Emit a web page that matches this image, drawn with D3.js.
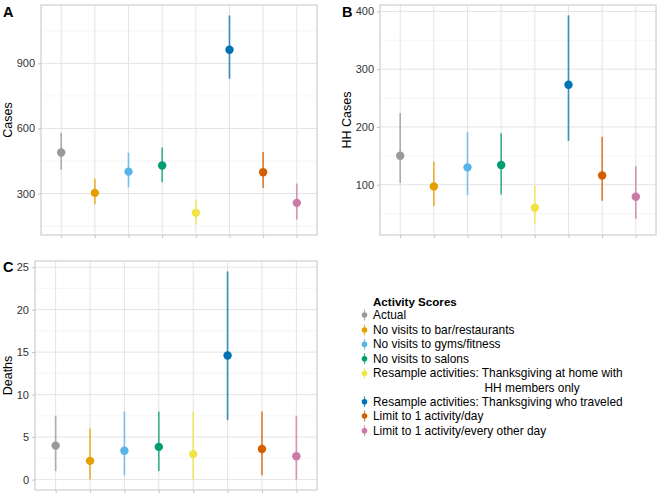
<!DOCTYPE html>
<html>
<head>
<meta charset="utf-8">
<script src="https://cdn.jsdelivr.net/npm/d3@7"></script>
<style>
  html, body { margin: 0; padding: 0; background: #fff; }
  svg { display: block; font-family: "Liberation Sans", Arial, Helvetica, sans-serif; }
</style>
</head>
<body>
<svg id="chart" width="660" height="497"></svg>
<script>
const categories = [
  "Actual",
  "No visits to bar/restaurants",
  "No visits to gyms/fitness",
  "No visits to salons",
  "Resample activities: Thanksgiving at home with HH members only",
  "Resample activities: Thanksgiving who traveled",
  "Limit to 1 activity/day",
  "Limit to 1 activity/every other day"
];
const legendLabels = [
  ["Actual"],
  ["No visits to bar/restaurants"],
  ["No visits to gyms/fitness"],
  ["No visits to salons"],
  ["Resample activities: Thanksgiving at home with", "HH members only"],
  ["Resample activities: Thanksgiving who traveled"],
  ["Limit to 1 activity/day"],
  ["Limit to 1 activity/every other day"]
];
const colors = ["#999999", "#E69F00", "#56B4E9", "#009E73", "#F0E442", "#0072B2", "#D55E00", "#CC79A7"];

const casesMean = [489, 303, 401, 429, 211, 963, 398, 257];
const casesLow  = [409, 250, 329, 352, 157, 829, 325, 180];
const casesHigh = [580, 369, 488, 512, 272, 1121, 492, 346];

const hhMean = [150, 97, 130, 134, 60, 273, 116, 79];
const hhLow  = [103, 63, 82, 83, 31, 176, 72, 41];
const hhHigh = [224, 140, 191, 189, 98, 393, 183, 132];

const deathsMean = [4.0, 2.2, 3.4, 3.85, 3.0, 14.6, 3.6, 2.75];
const deathsLow  = [1, 0, 0.5, 1, 0, 7, 0.5, 0];
const deathsHigh = [7.5, 6, 8, 8, 8, 24.5, 8, 7.5];

const casesTicks = [300, 600, 900];
const casesMinor = [150, 450, 750, 1050];
const hhTicks = [100, 200, 300, 400];
const hhMinor = [50, 150, 250, 350];
const deathsTicks = [0, 5, 10, 15, 20, 25];
const deathsMinor = [2.5, 7.5, 12.5, 17.5, 22.5];

const svg = d3.select("#chart");

function panel(opts) {
  const {x0, x1, y0, y1, mean, low, high, ticks, minor, title, tag, tagX, tagY, titleX} = opts;
  const g = svg.append("g");
  const lo = d3.min(low), hi = d3.max(high);
  const pad = (hi - lo) * 0.05;
  const y = d3.scaleLinear().domain([lo - pad, hi + pad]).range([y1, y0]);
  const x = d3.scaleLinear().domain([0.4, categories.length + 0.6]).range([x0, x1]);

  g.selectAll(".minor").data(minor).join("line")
    .attr("x1", x0).attr("x2", x1)
    .attr("y1", d => y(d)).attr("y2", d => y(d))
    .attr("stroke", "#f0f0f0").attr("stroke-width", 0.6);
  g.selectAll(".major").data(ticks).join("line")
    .attr("x1", x0).attr("x2", x1)
    .attr("y1", d => y(d)).attr("y2", d => y(d))
    .attr("stroke", "#e4e4e4").attr("stroke-width", 1);
  g.selectAll(".vgrid").data(categories).join("line")
    .attr("x1", (d, i) => x(i + 1)).attr("x2", (d, i) => x(i + 1))
    .attr("y1", y0).attr("y2", y1)
    .attr("stroke", "#e4e4e4").attr("stroke-width", 1);

  g.append("rect").attr("x", x0).attr("y", y0)
    .attr("width", x1 - x0).attr("height", y1 - y0)
    .attr("fill", "none").attr("stroke", "#c4c4c4").attr("stroke-width", 1);

  const yAxis = d3.axisLeft(y).tickValues(ticks).tickSize(3).tickPadding(3);
  const ya = g.append("g").attr("transform", `translate(${x0},0)`).call(yAxis);
  ya.select(".domain").remove();
  ya.selectAll(".tick line").attr("stroke", "#c4c4c4");
  ya.selectAll(".tick text").attr("fill", "#333").attr("font-size", 11);

  const xAxis = d3.axisBottom(x).tickValues(d3.range(1, categories.length + 1)).tickSize(3).tickFormat("");
  const xa = g.append("g").attr("transform", `translate(0,${y1})`).call(xAxis);
  xa.select(".domain").remove();
  xa.selectAll(".tick line").attr("stroke", "#c4c4c4");

  g.selectAll(".err").data(categories).join("line")
    .attr("x1", (d, i) => x(i + 1)).attr("x2", (d, i) => x(i + 1))
    .attr("y1", (d, i) => y(low[i])).attr("y2", (d, i) => y(high[i]))
    .attr("stroke", (d, i) => colors[i]).attr("stroke-width", 1.7)
    .attr("stroke-opacity", 0.75);
  g.selectAll(".pt").data(categories).join("circle")
    .attr("cx", (d, i) => x(i + 1)).attr("cy", (d, i) => y(mean[i]))
    .attr("r", 4.2).attr("fill", (d, i) => colors[i]);

  g.append("text")
    .attr("transform", `translate(${titleX},${(y0 + y1) / 2}) rotate(-90)`)
    .attr("text-anchor", "middle").attr("dominant-baseline", "central")
    .attr("font-size", 12.5).attr("fill", "#000").text(title);

  g.append("text").attr("x", tagX).attr("y", tagY)
    .attr("font-size", 14.5).attr("font-weight", "bold").attr("fill", "#000").text(tag);
}

panel({x0: 41, x1: 317, y0: 5, y1: 235, mean: casesMean, low: casesLow, high: casesHigh,
  ticks: casesTicks, minor: casesMinor, title: "Cases", tag: "A", tagX: 3, tagY: 17, titleX: 8});
panel({x0: 380, x1: 656, y0: 5, y1: 235, mean: hhMean, low: hhLow, high: hhHigh,
  ticks: hhTicks, minor: hhMinor, title: "HH Cases", tag: "B", tagX: 342, tagY: 17, titleX: 347});
panel({x0: 35, x1: 317, y0: 261, y1: 490, mean: deathsMean, low: deathsLow, high: deathsHigh,
  ticks: deathsTicks, minor: deathsMinor, title: "Deaths", tag: "C", tagX: 3, tagY: 272, titleX: 8});

const leg = svg.append("g");
leg.append("text").attr("x", 373).attr("y", 305.5)
  .attr("font-size", 11.6).attr("font-weight", "bold").attr("fill", "#000").text("Activity Scores");
const rowY = [315, 330, 344.3, 358.7, 373.3, 401.7, 416, 430.7];
legendLabels.forEach((lbl, i) => {
  const cy = rowY[i];
  const it = leg.append("g");
  it.append("line").attr("x1", 364.5).attr("x2", 364.5).attr("y1", cy - 5.5).attr("y2", cy + 5.5)
    .attr("stroke", colors[i]).attr("stroke-width", 1.2).attr("stroke-opacity", 0.75);
  it.append("circle").attr("cx", 364.5).attr("cy", cy).attr("r", 2.8).attr("fill", colors[i]);
  it.append("text").attr("x", 373).attr("y", cy).attr("dominant-baseline", "central")
    .attr("font-size", 11.9).attr("fill", "#000").text(lbl[0]);
  if (lbl.length > 1) {
    it.append("text").attr("x", 484.5).attr("y", cy + 14.4).attr("dominant-baseline", "central")
      .attr("font-size", 11.9).attr("fill", "#000").text(lbl[1]);
  }
});
</script>
</body>
</html>
